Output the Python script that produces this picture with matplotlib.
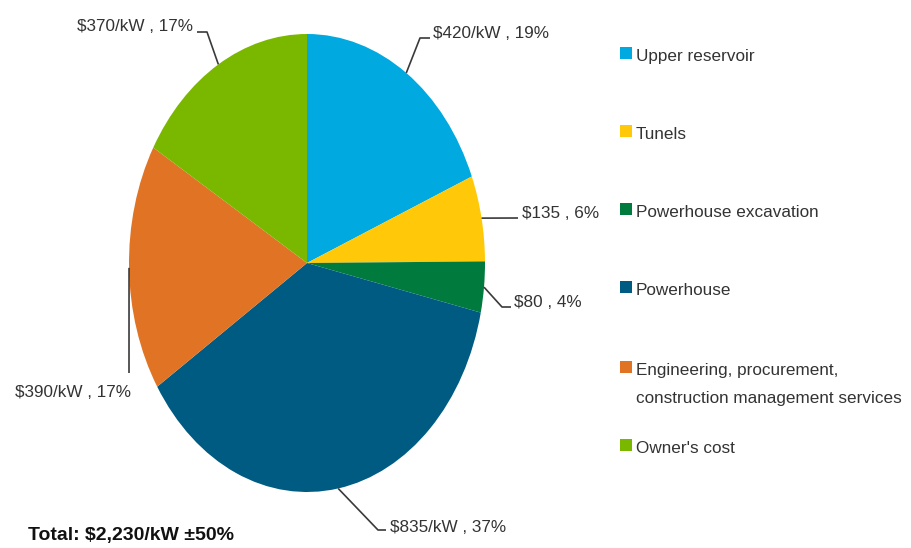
import matplotlib
matplotlib.use("Agg")
import matplotlib.pyplot as plt
import numpy as np
from matplotlib import font_manager

### data ($/kW)
categories = ["Upper reservoir", "Tunels", "Powerhouse excavation", "Powerhouse",
              "Engineering, procurement,\nconstruction management services", "Owner's cost"]
costs = [420, 135, 80, 835, 390, 370]
value_labels = ["$420/kW , 19%", "$135 , 6%", "$80 , 4%", "$835/kW , 37%",
                "$390/kW , 17%", "$370/kW , 17%"]
total_label = "Total: $2,230/kW \u00b150%"
colors = ["#00A9E0", "#FFC90A", "#007A3D", "#005B82", "#E07424", "#7AB800"]

### pick a narrow font if there is one
try:
    font_manager.findfont(font_manager.FontProperties(family="Liberation Sans Narrow"),
                          fallback_to_default=False)
    fam, fs, fs_tot = "Liberation Sans Narrow", 15, 16.5
except Exception:
    fam, fs, fs_tot = "Liberation Sans", 12.3, 14
plt.rcParams["font.family"] = [fam, "DejaVu Sans"]
txt_color = "#333333"

W, H = 911, 548
fig = plt.figure(figsize=(W / 100, H / 100), dpi=100)

# pie is stretched vertically in the reference, so place axes in pixels
cx, cy, rx, ry = 307, 263, 178, 229
ax = fig.add_axes([(cx - rx) / W, (H - cy - ry) / H, 2 * rx / W, 2 * ry / H])
ax.pie(costs, colors=colors, startangle=90, counterclock=False, radius=1,
       wedgeprops=dict(linewidth=0))
ax.set_aspect("auto")
ax.set_xlim(-1, 1)
ax.set_ylim(-1, 1)
ax.axis("off")

# overlay in pixel coordinates for labels / legend
ov = fig.add_axes([0, 0, 1, 1])
ov.set_xlim(0, W)
ov.set_ylim(H, 0)
ov.axis("off")
ov.patch.set_visible(False)

# leader lines start at the middle of each wedge's edge
leader_elbow = [(420, 38), None, (502, 307), (378, 530), None, (207, 32)]
leader_end = [(430, 38), (518, 218), (511, 307), (386, 530), (129, 373), (197, 32)]
label_pos = [(433, 38, "left"), (522, 218, "left"), (514, 307, "left"),
             (390, 532, "left"), (131, 397, "right"), (193, 31, "right")]

total = sum(costs)
cum = np.cumsum([0] + costs[:-1])
for i, v in enumerate(costs):
    theta = np.deg2rad((cum[i] + v / 2) / total * 360)
    dx, dy = ax.transData.transform((np.sin(theta), np.cos(theta)))
    pts = [(dx, H - dy)]
    if leader_elbow[i] is not None:
        pts.append(leader_elbow[i])
    pts.append(leader_end[i])
    xs, ys = zip(*pts)
    ov.plot(xs, ys, color="#3a3a3a", lw=1.2, solid_capstyle="butt")
    lx, ly, ha = label_pos[i]
    ov.text(lx, ly, value_labels[i], ha=ha, va="baseline", fontsize=fs, color=txt_color)

# legend drawn by hand (uneven spacing in the reference)
leg_y = [53, 131, 209, 287, 367, 445]
for c, lab, y in zip(colors, categories, leg_y):
    ov.scatter([626], [y], marker="s", s=65, color=c, linewidths=0)
    for k, line in enumerate(lab.split("\n")):
        ov.text(636, y + 8 + 28 * k, line, ha="left", va="baseline", fontsize=fs,
                color=txt_color)

ov.text(28, 540, total_label, ha="left", va="baseline", fontsize=fs_tot,
        fontweight="bold", color="#111111")

fig.savefig("out.png", dpi=100)
